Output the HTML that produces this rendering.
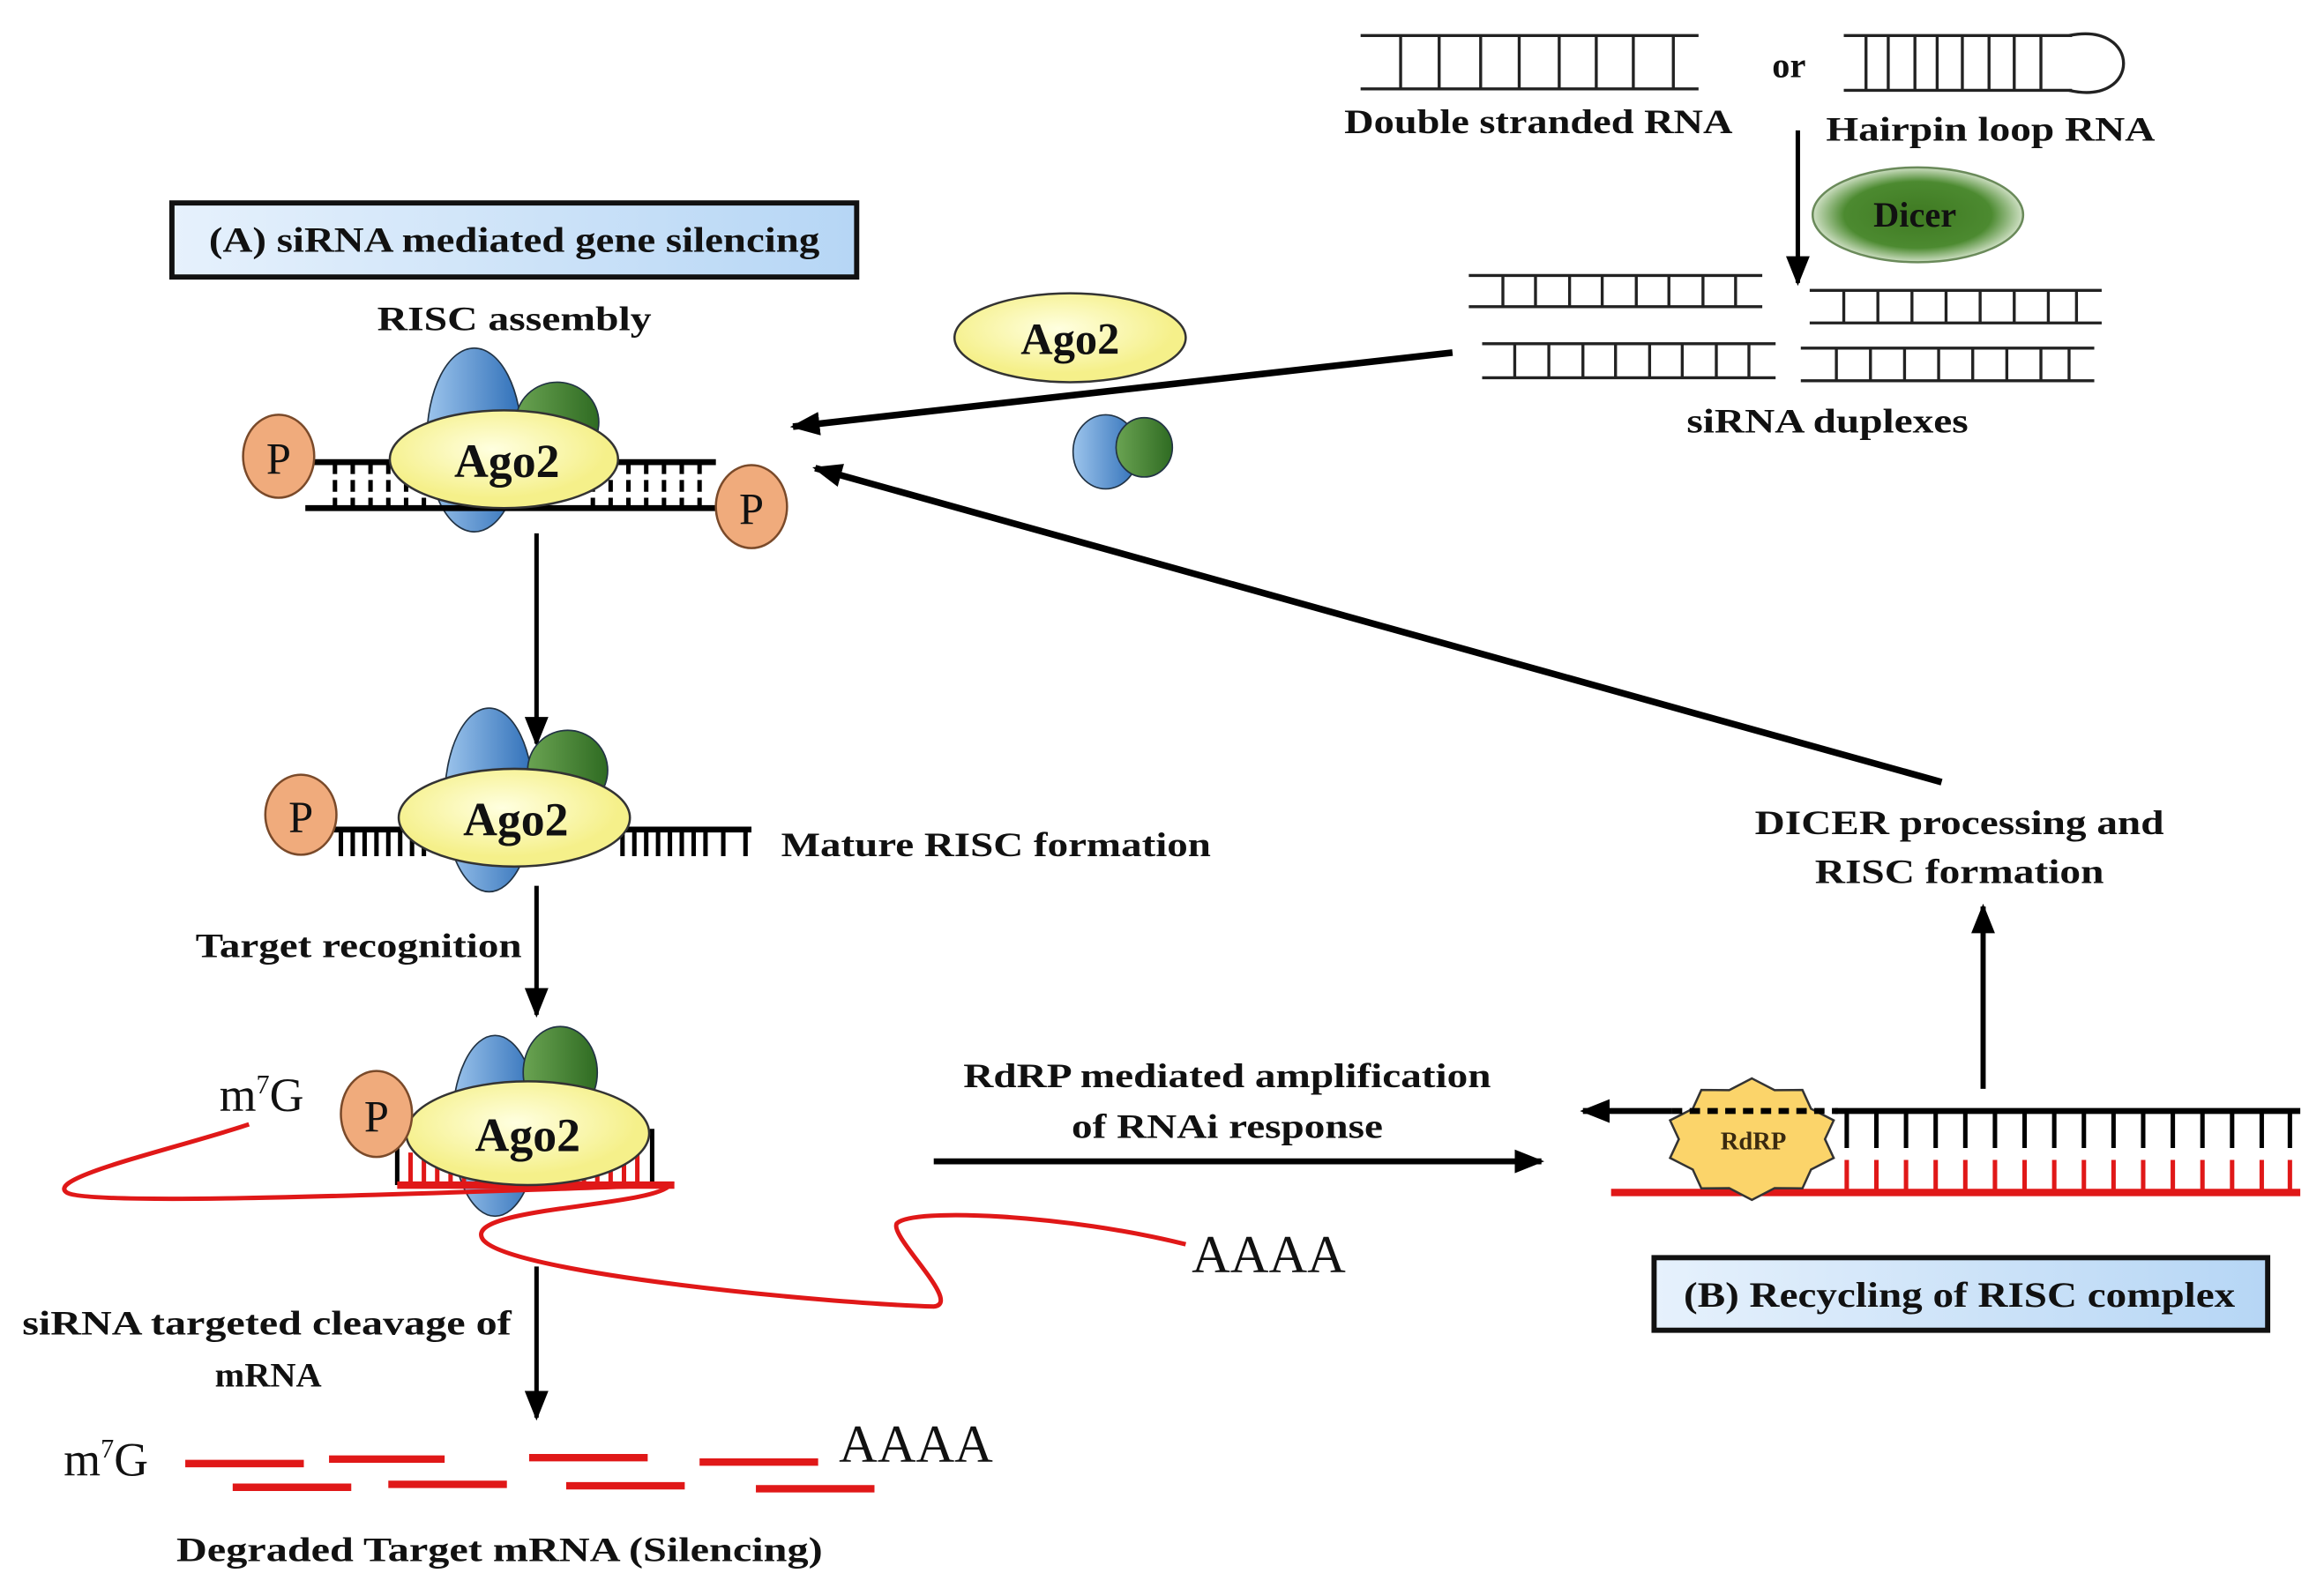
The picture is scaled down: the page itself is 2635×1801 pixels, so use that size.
<!DOCTYPE html>
<html><head><meta charset="utf-8"><style>html,body{margin:0;padding:0;background:#fff}svg{display:block}</style></head>
<body>
<svg width="2635" height="1801" viewBox="0 0 1568 1072" preserveAspectRatio="none" xmlns="http://www.w3.org/2000/svg">
<defs>
<marker id="ah" markerWidth="20" markerHeight="16" refX="18" refY="8" orient="auto" markerUnits="userSpaceOnUse"><path d="M0,0 L20,8 L0,16 Z" fill="#000"/></marker>
<linearGradient id="boxg" x1="0" x2="1" y1="0" y2="0"><stop offset="0" stop-color="#e6f1fc"/><stop offset="1" stop-color="#b6d6f5"/></linearGradient>
<radialGradient id="dic"><stop offset="0" stop-color="#3f7a22"/><stop offset="0.7" stop-color="#4c8a30"/><stop offset="1" stop-color="#cfe0c4"/></radialGradient>
<radialGradient id="yel" cx="0.45" cy="0.4"><stop offset="0" stop-color="#ffffe0"/><stop offset="1" stop-color="#f5f08a"/></radialGradient>
<linearGradient id="blu" x1="0" x2="1"><stop offset="0" stop-color="#9cc4ec"/><stop offset="1" stop-color="#2f6fb8"/></linearGradient>
<linearGradient id="grn" x1="0" x2="1"><stop offset="0" stop-color="#6aa352"/><stop offset="1" stop-color="#2f6b22"/></linearGradient>
</defs>
<g font-family="'Liberation Serif', serif" font-weight="bold" fill="#111">

<g stroke="#222" stroke-width="2" fill="none">
<path d="M918,24H1146M918,60H1146M945,24V60M971,24V60M999,24V60M1025,24V60M1052,24V60M1077,24V60M1102,24V60M1129,24V60"/>
<path d="M1244,24H1398M1244,61H1398M1259,24V61M1274,24V61M1292,24V61M1307,24V61M1324,24V61M1342,24V61M1359,24V61M1377,24V61"/>
<path d="M1396,24 C1445,14 1445,72 1396,61"/>
</g>
<text x="1038" y="90" font-size="23" text-anchor="middle" textLength="262" lengthAdjust="spacingAndGlyphs">Double stranded RNA</text>
<text x="1207" y="52" font-size="24" text-anchor="middle">or</text>
<text x="1343" y="95" font-size="23" text-anchor="middle" textLength="222" lengthAdjust="spacingAndGlyphs">Hairpin loop RNA</text>

<line x1="1213" y1="88" x2="1213" y2="191" stroke="#000" stroke-width="3" marker-end="url(#ah)"/>
<ellipse cx="1294" cy="145" rx="71" ry="32" fill="url(#dic)" stroke="#6a8a5a" stroke-width="1.5"/>
<text x="1292" y="153" font-size="24" text-anchor="middle">Dicer</text>

<g stroke="#222" stroke-width="2" fill="none">
<path d="M991,186H1189M991,207H1189M1014,186V207M1036,186V207M1059,186V207M1081,186V207M1104,186V207M1126,186V207M1149,186V207M1171,186V207"/>
<path d="M1221,196H1418M1221,218H1418M1244,196V218M1267,196V218M1290,196V218M1313,196V218M1336,196V218M1359,196V218M1382,196V218M1401,196V218"/>
<path d="M1000,232H1198M1000,255H1198M1022,232V255M1045,232V255M1068,232V255M1090,232V255M1113,232V255M1135,232V255M1158,232V255M1180,232V255"/>
<path d="M1215,235H1413M1215,257H1413M1239,235V257M1262,235V257M1285,235V257M1308,235V257M1331,235V257M1354,235V257M1377,235V257M1396,235V257"/>
</g>
<text x="1233" y="292" font-size="23" text-anchor="middle" textLength="190" lengthAdjust="spacingAndGlyphs">siRNA duplexes</text>

<line x1="980" y1="238" x2="535" y2="288" stroke="#000" stroke-width="4.5" marker-end="url(#ah)"/>
<line x1="1310" y1="528" x2="550" y2="316" stroke="#000" stroke-width="4.5" marker-end="url(#ah)"/>

<ellipse cx="722" cy="228" rx="78" ry="30" fill="url(#yel)" stroke="#333" stroke-width="1.5"/>
<text x="722" y="239" font-size="30" text-anchor="middle">Ago2</text>
<ellipse cx="746" cy="305" rx="22" ry="25" fill="url(#blu)" stroke="#234" stroke-width="1"/>
<ellipse cx="772" cy="302" rx="19" ry="20" fill="url(#grn)" stroke="#234" stroke-width="1"/>

<rect x="116" y="137" width="462" height="50" fill="url(#boxg)" stroke="#111" stroke-width="3.5"/>
<text x="347" y="170" font-size="24" text-anchor="middle" textLength="412" lengthAdjust="spacingAndGlyphs">(A) siRNA mediated gene silencing</text>
<text x="347" y="223" font-size="23" text-anchor="middle" textLength="185" lengthAdjust="spacingAndGlyphs">RISC assembly</text>

<ellipse cx="320" cy="297" rx="32" ry="62" fill="url(#blu)" stroke="#234" stroke-width="1"/>
<ellipse cx="376" cy="285" rx="28" ry="27" fill="url(#grn)" stroke="#234" stroke-width="1"/>
<g stroke="#000" fill="none">
<path d="M212,312H483M206,343H483" stroke-width="4"/>
<path stroke-width="3" d="M226,312V343M238,312V343M250,312V343M262,312V343M274,312V343M286,312V343M400,312V343M412,312V343M424,312V343M436,312V343M448,312V343M460,312V343M472,312V343" stroke-dasharray="8,4"/>
</g>
<ellipse cx="340" cy="310" rx="77" ry="33" fill="url(#yel)" stroke="#333" stroke-width="1.5"/>
<text x="342" y="322" font-size="32" text-anchor="middle">Ago2</text>
<ellipse cx="188" cy="308" rx="24" ry="28" fill="#f0ab7c" stroke="#7a4a2a" stroke-width="1.5"/>
<text x="188" y="320" font-size="30" font-weight="normal" text-anchor="middle">P</text>
<ellipse cx="507" cy="342" rx="24" ry="28" fill="#f0ab7c" stroke="#7a4a2a" stroke-width="1.5"/>
<text x="507" y="354" font-size="30" font-weight="normal" text-anchor="middle">P</text>

<line x1="362" y1="360" x2="362" y2="502" stroke="#000" stroke-width="3" marker-end="url(#ah)"/>

<ellipse cx="330" cy="540" rx="30" ry="62" fill="url(#blu)" stroke="#234" stroke-width="1"/>
<ellipse cx="383" cy="520" rx="27" ry="27" fill="url(#grn)" stroke="#234" stroke-width="1"/>
<path d="M225,560H507" stroke="#000" stroke-width="4"/>
<path d="M230,560V578M238,560V578M246,560V578M254,560V578M262,560V578M270,560V578M278,560V578M286,560V578M420,560V578M428,560V578M436,560V578M444,560V578M452,560V578M460,560V578M468,560V578M476,560V578M488,560V578M503,560V578" stroke="#000" stroke-width="3"/>
<ellipse cx="347" cy="552" rx="78" ry="33" fill="url(#yel)" stroke="#333" stroke-width="1.5"/>
<text x="348" y="564" font-size="32" text-anchor="middle">Ago2</text>
<ellipse cx="203" cy="550" rx="24" ry="27" fill="#f0ab7c" stroke="#7a4a2a" stroke-width="1.5"/>
<text x="203" y="562" font-size="30" font-weight="normal" text-anchor="middle">P</text>
<text x="527" y="578" font-size="23" textLength="290" lengthAdjust="spacingAndGlyphs">Mature RISC formation</text>

<line x1="362" y1="598" x2="362" y2="685" stroke="#000" stroke-width="3" marker-end="url(#ah)"/>
<text x="132" y="646" font-size="23" textLength="220" lengthAdjust="spacingAndGlyphs">Target recognition</text>

<ellipse cx="334" cy="760" rx="29" ry="61" fill="url(#blu)" stroke="#234" stroke-width="1"/>
<ellipse cx="378" cy="724" rx="25" ry="31" fill="url(#grn)" stroke="#234" stroke-width="1"/>
<path d="M268,762V800M440,762V800" stroke="#000" stroke-width="3"/>
<path d="M277,778V800M286,778V800M295,778V800M304,778V800M313,778V800M322,778V800M331,778V800M340,778V800M349,778V800M358,778V800M367,778V800M376,778V800M385,778V800M394,778V800M403,778V800M412,778V800M421,778V800M430,778V800" stroke="#e01818" stroke-width="3"/>
<path d="M268,800H455" stroke="#e01818" stroke-width="5"/>
<path d="M168,759 C120,775 30,795 45,805 C60,815 300,805 452,800 C440,815 310,815 326,837 C345,860 560,880 630,882 C650,880 600,835 605,826 C615,815 720,820 800,840" stroke="#e01818" stroke-width="3" fill="none"/>
<ellipse cx="356" cy="765" rx="82" ry="35" fill="url(#yel)" stroke="#333" stroke-width="1.5"/>
<text x="356" y="777" font-size="32" text-anchor="middle">Ago2</text>
<ellipse cx="254" cy="752" rx="24" ry="29" fill="#f0ab7c" stroke="#7a4a2a" stroke-width="1.5"/>
<text x="254" y="764" font-size="30" font-weight="normal" text-anchor="middle">P</text>
<text x="148" y="750" font-size="32" font-weight="normal">m<tspan font-size="18" dy="-12">7</tspan><tspan dy="12">G</tspan></text>
<text x="804" y="859" font-size="36" font-weight="normal">AAAA</text>

<line x1="362" y1="855" x2="362" y2="957" stroke="#000" stroke-width="3" marker-end="url(#ah)"/>
<text x="180" y="901" font-size="23" text-anchor="middle" textLength="330" lengthAdjust="spacingAndGlyphs">siRNA targeted cleavage of</text>
<text x="181" y="936" font-size="23" text-anchor="middle" textLength="72" lengthAdjust="spacingAndGlyphs">mRNA</text>

<text x="43" y="996" font-size="32" font-weight="normal">m<tspan font-size="18" dy="-12">7</tspan><tspan dy="12">G</tspan></text>
<g stroke="#e01818" stroke-width="5">
<path d="M125,988H205M222,985H300M357,984H437M472,987H552"/>
<path d="M157,1004H237M262,1002H342M382,1003H462M510,1005H590"/>
</g>
<text x="566" y="987" font-size="36" font-weight="normal">AAAA</text>
<text x="337" y="1054" font-size="23" text-anchor="middle" textLength="436" lengthAdjust="spacingAndGlyphs">Degraded Target mRNA  (Silencing)</text>

<text x="828" y="734" font-size="23" text-anchor="middle" textLength="356" lengthAdjust="spacingAndGlyphs">RdRP mediated amplification</text>
<text x="828" y="768" font-size="23" text-anchor="middle" textLength="210" lengthAdjust="spacingAndGlyphs">of RNAi response</text>
<line x1="630" y1="784" x2="1040" y2="784" stroke="#000" stroke-width="4" marker-end="url(#ah)"/>

<path d="M1087,805H1552" stroke="#e01818" stroke-width="5"/>
<path d="M1246,783V805M1266,783V805M1286,783V805M1306,783V805M1326,783V805M1346,783V805M1366,783V805M1386,783V805M1406,783V805M1426,783V805M1446,783V805M1466,783V805M1486,783V805M1506,783V805M1526,783V805M1545,783V805" stroke="#e01818" stroke-width="3"/>
<polygon transform="translate(1182,769)" points="0,-41 15.3,-33.1 34.1,-33.2 39.9,-20.5 55.2,-12.7 49.3,0 55.2,12.7 39.9,20.5 34.1,33.2 15.3,33.1 0,41 -15.3,33.1 -34.1,33.2 -39.9,20.5 -55.2,12.7 -49.3,0 -55.2,-12.7 -39.9,-20.5 -34.1,-33.2 -15.3,-33.1" fill="#fbd46a" stroke="#333" stroke-width="1.5"/>
<line x1="1128" y1="750" x2="1068" y2="750" stroke="#000" stroke-width="4" marker-end="url(#ah)"/>
<line x1="1128" y1="750" x2="1240" y2="750" stroke="#000" stroke-width="4" stroke-dasharray="7,5"/>
<path d="M1238,750H1552" stroke="#000" stroke-width="4"/>
<path d="M1246,750V775M1266,750V775M1286,750V775M1306,750V775M1326,750V775M1346,750V775M1366,750V775M1386,750V775M1406,750V775M1426,750V775M1446,750V775M1466,750V775M1486,750V775M1506,750V775M1526,750V775M1545,750V775" stroke="#000" stroke-width="3"/>
<text x="1183" y="776" font-size="17" text-anchor="middle" fill="#3a2a10">RdRP</text>

<line x1="1338" y1="735" x2="1338" y2="612" stroke="#000" stroke-width="3.5" marker-end="url(#ah)"/>
<text x="1322" y="563" font-size="23" text-anchor="middle" textLength="276" lengthAdjust="spacingAndGlyphs">DICER processing and</text>
<text x="1322" y="596" font-size="23" text-anchor="middle" textLength="195" lengthAdjust="spacingAndGlyphs">RISC formation</text>

<rect x="1116" y="849" width="414" height="49" fill="url(#boxg)" stroke="#111" stroke-width="3.5"/>
<text x="1322" y="882" font-size="24" text-anchor="middle" textLength="372" lengthAdjust="spacingAndGlyphs">(B) Recycling of RISC complex</text>
</g>
</svg>
</body></html>
